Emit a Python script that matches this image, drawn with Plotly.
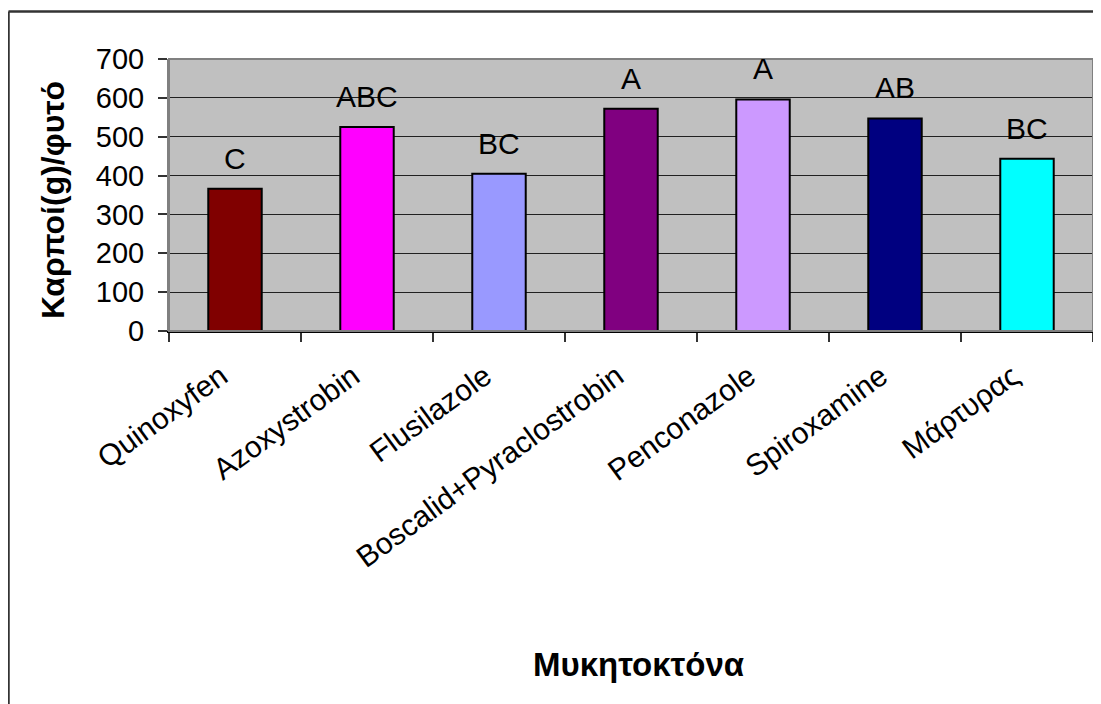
import plotly.graph_objects as go

categories = ["Quinoxyfen", "Azoxystrobin", "Flusilazole", "Boscalid+Pyraclostrobin",
              "Penconazole", "Spiroxamine", "Μάρτυρας"]
values = [366, 525, 405, 572, 596, 547, 443]
letters = ["C", "ABC", "BC", "A", "A", "AB", "BC"]
colors = ["#800000", "#FF00FF", "#9999FF", "#800080", "#CC99FF", "#000080", "#00FFFF"]
y_ticks = [0, 100, 200, 300, 400, 500, 600, 700]

FONT = "Liberation Sans, Arial, sans-serif"

fig = go.Figure()
fig.add_trace(go.Bar(
    x=categories, y=values,
    marker=dict(color=colors, line=dict(color="black", width=2)),
    width=0.405,
    showlegend=False,
))

for c, v, t in zip(categories, values, letters):
    fig.add_annotation(x=c, y=v, text=t, showarrow=False, xref="x", yref="y",
                       yanchor="bottom", yshift=12,
                       font=dict(family=FONT, size=30, color="black"))

# page body has an 8px margin; work in window pixels and offset
OFF = 8
W, H = 1101 - OFF, 704 - OFF
L, R, T, B = 169 - OFF, 8, 59 - OFF, 373
pw, ph = W - L - R, H - T - B

def px(x):
    return (x - OFF - L) / pw

def py(y):
    return (T + ph - (y - OFF)) / ph

# y-axis title
fig.add_annotation(x=px(53), y=py(200), xref="paper", yref="paper", text="<b>Καρποί(g)/φυτό</b>",
                   textangle=-90, showarrow=False, xanchor="center", yanchor="middle",
                   font=dict(family=FONT, size=32, color="black"))
# x-axis title
fig.add_annotation(x=px(638), y=py(664), xref="paper", yref="paper", text="<b>Μυκητοκτόνα</b>",
                   showarrow=False, xanchor="center", yanchor="middle",
                   font=dict(family=FONT, size=33, color="black"))

# plot-area border
fig.add_shape(type="rect", xref="paper", yref="paper", x0=0, x1=1, y0=0, y1=1,
              line=dict(color="#808080", width=2), layer="above")
# outer chart border (only left and top edges fall inside the window)
fig.add_shape(type="line", xref="paper", yref="paper", x0=px(8.5), x1=px(8.5),
              y0=py(720), y1=py(11.5), line=dict(color="#333333", width=2.5), layer="above")
fig.add_shape(type="line", xref="paper", yref="paper", x0=px(8.5), x1=px(1110),
              y0=py(11.5), y1=py(11.5), line=dict(color="#333333", width=2.5), layer="above")

fig.update_layout(
    width=W, height=H,
    margin=dict(l=L, r=R, t=T, b=B, autoexpand=False),
    paper_bgcolor="white", plot_bgcolor="#C0C0C0",
    bargap=0.6,
    font=dict(family=FONT, color="black"),
)
fig.update_xaxes(
    type="category", tickson="boundaries", ticks="outside", ticklen=9,
    tickcolor="#333333", tickwidth=1.5, tickangle=-36,
    tickfont=dict(family=FONT, size=30, color="black"),
    ticklabelstandoff=14, ticklabelshift=-14,
    showline=True, linecolor="black", linewidth=2, showgrid=False,
)
fig.update_yaxes(
    range=[0, 700], tickvals=y_ticks, ticks="outside", ticklen=9,
    tickcolor="#333333", tickwidth=1.5,
    tickfont=dict(family=FONT, size=29, color="black"),
    ticklabelstandoff=8,
    showgrid=True, gridcolor="#202020", gridwidth=1,
    showline=True, linecolor="#808080", linewidth=2, zeroline=False,
)

fig.write_html("out.html")
